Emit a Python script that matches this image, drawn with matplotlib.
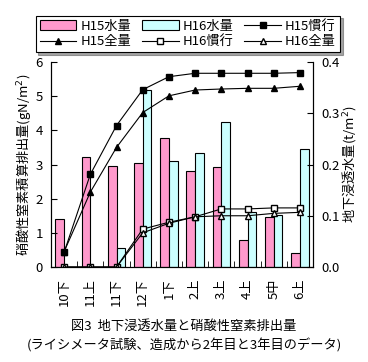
import matplotlib
matplotlib.use('Agg')
import matplotlib.pyplot as plt
import numpy as np

plt.rcParams['font.family'] = ['Noto Sans CJK JP', 'DejaVu Sans']
plt.rcParams['font.size'] = 9

# categories (period)
periods = ['10下', '11上', '11下', '12下', '1下', '2上', '3上', '4上', '5中', '6上']

# water percolation (t/m2), right axis
h15_water = [0.094, 0.214, 0.198, 0.202, 0.251, 0.187, 0.196, 0.052, 0.097, 0.027]
h16_water = [0.0, 0.0, 0.038, 0.345, 0.206, 0.222, 0.283, 0.107, 0.101, 0.230]

# cumulative nitrate-N discharge (gN/m2), left axis
h15_conv = [0.43, 2.71, 4.14, 5.19, 5.57, 5.67, 5.67, 5.67, 5.67, 5.69]
h15_full = [0.45, 2.19, 3.50, 4.52, 5.01, 5.18, 5.21, 5.23, 5.23, 5.29]
h16_conv = [0.0, 0.0, 0.0, 1.11, 1.31, 1.47, 1.70, 1.70, 1.73, 1.73]
h16_full = [0.0, 0.0, 0.0, 1.00, 1.28, 1.47, 1.50, 1.50, 1.57, 1.60]

fig = plt.figure(figsize=(3.68, 3.62), dpi=100)
ax = fig.add_axes([0.1386, 0.2624, 0.712, 0.5663])
ax2 = ax.twinx()
ax.set_zorder(ax2.get_zorder() + 1)
ax.patch.set_visible(False)

x = np.arange(len(periods))
w = 0.33
b1 = ax2.bar(x - w, h15_water, w, align='edge', color='#ff99cc', edgecolor='black', linewidth=0.8, label='H15水量')
b2 = ax2.bar(x, h16_water, w, align='edge', color='#ccffff', edgecolor='black', linewidth=0.8, label='H16水量')

l1, = ax.plot(x, h15_conv, '-s', color='black', mfc='black', ms=5, lw=0.8, label='H15慣行')
l2, = ax.plot(x, h15_full, '-^', color='black', mfc='black', ms=5, lw=0.8, label='H15全量')
l3, = ax.plot(x, h16_conv, '-s', color='black', mfc='white', ms=5, lw=0.8, label='H16慣行')
l4, = ax.plot(x, h16_full, '-^', color='black', mfc='white', ms=5, lw=0.8, label='H16全量')

ax.set_xlim(-0.5, len(periods) - 0.5)
ax.set_ylim(0, 6)
ax2.set_ylim(0, 0.4)
ax.set_yticks(range(0, 7))
ax2.set_yticks([0.0, 0.1, 0.2, 0.3, 0.4])
ax2.set_yticklabels(['0.0', '0.1', '0.2', '0.3', '0.4'])

ax.set_xticks(x)
ax.set_xticklabels(periods, rotation=90)
ax.set_xticks(np.arange(len(periods) + 1) - 0.5, minor=True)
ax.tick_params(axis='x', which='major', length=0, pad=8, labelsize=9.5)
ax.tick_params(axis='x', which='minor', direction='in', length=4)
ax.tick_params(axis='y', direction='in', length=4, labelsize=9.5, pad=6)
ax2.tick_params(axis='y', direction='in', length=4, labelsize=9.5, pad=6)

for a in (ax, ax2):
    a.spines['top'].set_visible(False)

ax.set_ylabel('硝酸性窒素積算排出量(gN/m$^2$)', fontsize=9.5, labelpad=2)
ax2.set_ylabel('地下浸透水量(t/m$^2$)', fontsize=9.5, labelpad=0)

handles = [b1, l2, b2, l3, l1, l4]
leg = fig.legend(handles, [h.get_label() for h in handles], ncol=3,
                 loc='upper center', bbox_to_anchor=(0.51, 0.975),
                 frameon=True, fancybox=False, shadow=True,
                 edgecolor='black', fontsize=9.5, handlelength=2.8,
                 columnspacing=0.8, handletextpad=0.3, borderpad=0.3,
                 labelspacing=0.2)
leg.get_frame().set_linewidth(0.8)

fig.text(0.5, 0.09, '図3  地下浸透水量と硝酸性窒素排出量', ha='center', fontsize=9.5)
fig.text(0.5, 0.035, '(ライシメータ試験、造成から2年目と3年目のデータ)', ha='center', fontsize=9.5)

fig.savefig('out.png', dpi=100)
